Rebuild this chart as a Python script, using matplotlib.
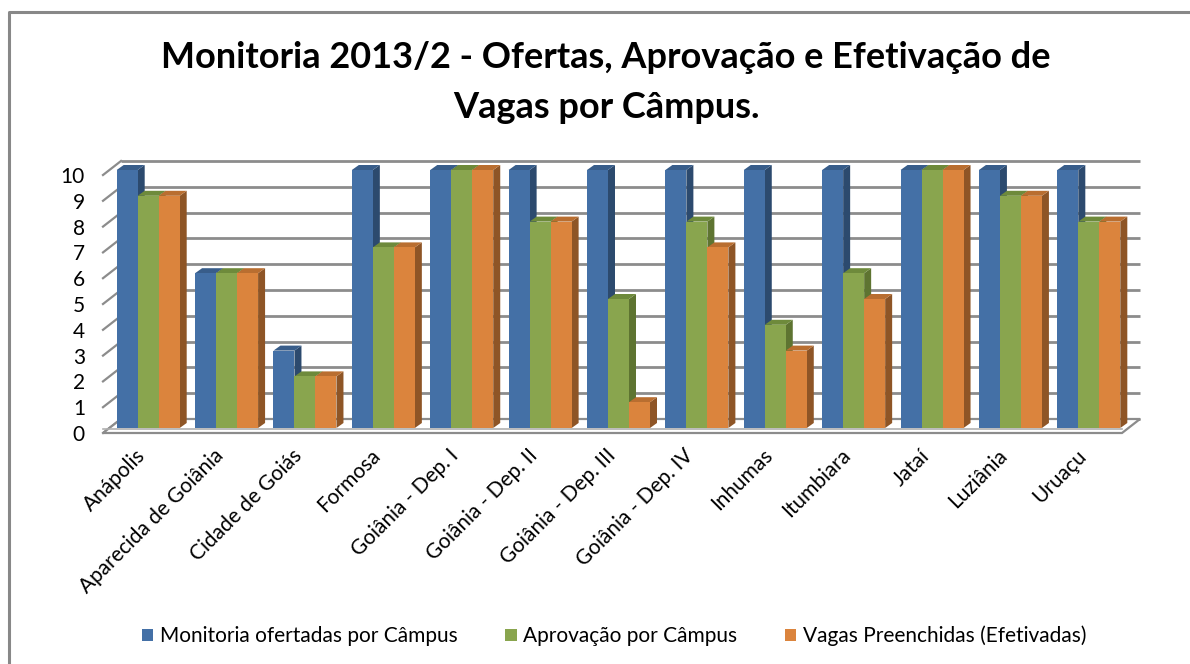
import matplotlib
matplotlib.use("Agg")
import matplotlib.pyplot as plt
from matplotlib.patches import Polygon, Rectangle
from matplotlib.lines import Line2D
import matplotlib.transforms as mtrans

# ---------------- data ----------------
campus = ["Anápolis", "Aparecida de Goiânia", "Cidade de Goiás", "Formosa",
          "Goiânia - Dep. I", "Goiânia - Dep. II", "Goiânia - Dep. III",
          "Goiânia - Dep. IV", "Inhumas", "Itumbiara", "Jataí", "Luziânia", "Uruaçu"]
ofertadas = [10, 6, 3, 10, 10, 10, 10, 10, 10, 10, 10, 10, 10]
aprovacao = [9, 6, 2, 7, 10, 8, 5, 8, 4, 6, 10, 9, 8]
preenchidas = [9, 6, 2, 7, 10, 8, 1, 7, 3, 5, 10, 9, 8]
series_names = ["Monitoria ofertadas por Câmpus", "Aprovação por Câmpus",
                "Vagas Preenchidas (Efetivadas)"]
yticks = list(range(0, 11))
title_lines = ["Monitoria 2013/2 - Ofertas, Aprovação e Efetivação de",
               "Vagas por Câmpus."]

# ---------------- style ----------------
FONT = ["Lato", "DejaVu Sans"]
plt.rcParams["font.family"] = FONT
front_cols = ["#4470A6", "#89A54E", "#DB843D"]
side_cols = ["#2C4A6E", "#5E7431", "#8E5526"]
top_cols = ["#385D8A", "#6E8A3B", "#B96E30"]
grid_col = "#8C8C8C"

W, H = 1190, 664
fig = plt.figure(figsize=(W / 100, H / 100), dpi=100)
fig.patch.set_facecolor("white")

ax_l, ax_r = 103, 1122
ax_bot, ax_top = 433, 175
ax = fig.add_axes([ax_l / W, 1 - ax_bot / H, (ax_r - ax_l) / W, (ax_bot - ax_top) / H])
n = len(campus)
ax.set_xlim(-0.5, n - 0.5)
ax.set_ylim(0, 10)
for s in ax.spines.values():
    s.set_visible(False)
ax.patch.set_alpha(0)

pxu_x = (ax_r - ax_l) / n          # pixels per category unit
pxu_y = (ax_bot - ax_top) / 10.0   # pixels per value unit
def dx(p): return p / pxu_x
def dy(p): return p / pxu_y

# back wall / floor offsets (pixels)
BWX, BWY = 18, 14
# bar plane offset and bar depth
BPX, BPY = 6, 5
BDX, BDY = 7, 5

x0, x1 = -0.5, n - 0.5
# back wall gridlines
for v in yticks:
    ax.plot([x0 + dx(BWX), x1 + dx(BWX)], [v + dy(BWY), v + dy(BWY)],
            color=grid_col, lw=2.0, zorder=1, clip_on=False, solid_capstyle="butt")
    # left wall diagonal ticks
    ax.plot([x0, x0 + dx(BWX)], [v, v + dy(BWY)], color=grid_col, lw=1.6,
            zorder=1, clip_on=False)

# floor
floor = Polygon([(x0, 0), (x1, 0), (x1 + dx(BWX), dy(BWY)), (x0 + dx(BWX), dy(BWY))],
                closed=True, facecolor="white", edgecolor=grid_col, lw=1.6,
                zorder=2, clip_on=False)
ax.add_patch(floor)
ax.plot([x0, x1], [dy(4), dy(4)], color="#B0B0B0", lw=1.2, zorder=2, clip_on=False)

# bars
bw = 63 / 3 / pxu_x
offs = [-bw, 0, bw]
vals = [ofertadas, aprovacao, preenchidas]
bar_tr = mtrans.offset_copy(ax.transData, fig=fig, x=BPX, y=BPY, units="dots")
for i in range(n):
    for k in range(3):
        xc = i + offs[k]
        h = vals[k][i]
        xl, xr = xc - bw / 2, xc + bw / 2
        ax.bar(xc, h, width=bw, color=front_cols[k], edgecolor="none",
               transform=bar_tr, zorder=5 + i * 3 + k, clip_on=False)
        side = Polygon([(xr, 0), (xr + dx(BDX), dy(BDY)), (xr + dx(BDX), h + dy(BDY)), (xr, h)],
                       closed=True, facecolor=side_cols[k], edgecolor="none",
                       transform=bar_tr, zorder=5 + i * 3 + k - 0.5, clip_on=False)
        top = Polygon([(xl, h), (xr, h), (xr + dx(BDX), h + dy(BDY)), (xl + dx(BDX), h + dy(BDY))],
                      closed=True, facecolor=top_cols[k], edgecolor="none",
                      transform=bar_tr, zorder=5 + i * 3 + k - 0.5, clip_on=False)
        ax.add_patch(side)
        ax.add_patch(top)

# ticks
ax.set_yticks(yticks)
ax.set_yticklabels([str(v) for v in yticks], fontsize=15, color="black")
ax.tick_params(axis="y", length=0, pad=13)
ax.set_xticks(range(n))
ax.set_xticklabels(campus, rotation=45, ha="right", va="center",
                   rotation_mode="anchor", fontsize=15, color="black")
ax.tick_params(axis="x", length=0, pad=14)

# title
fig.text(606 / W, 1 - 68 / H, title_lines[0], ha="center", va="baseline",
         fontsize=26, fontweight="bold", family=FONT)
fig.text(606 / W, 1 - 118 / H, title_lines[1], ha="center", va="baseline",
         fontsize=26, fontweight="bold", family=FONT)

# legend
handles = [Rectangle((0, 0), 1, 1, facecolor=c, edgecolor="none") for c in front_cols]
fig.legend(handles, series_names, loc="center", bbox_to_anchor=(614 / W, 1 - 636 / H),
           ncol=3, frameon=False, fontsize=15, handlelength=0.55, handleheight=0.55,
           handletextpad=0.3, columnspacing=2.3)

# outer border (left and top visible)
fig.add_artist(Line2D([9 / W, 9 / W, 1.0], [0.0, 1 - 12 / H, 1 - 12 / H],
                      transform=fig.transFigure, color="#888888", lw=2.2))

fig.savefig("out.png", dpi=100, facecolor="white")
